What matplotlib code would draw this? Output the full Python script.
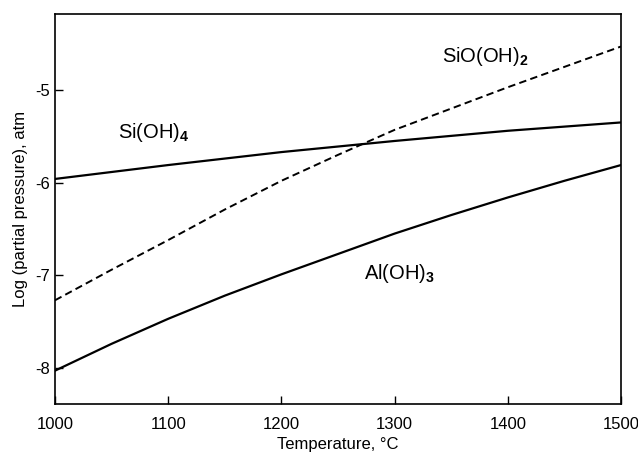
import matplotlib
matplotlib.use("Agg")
import matplotlib.pyplot as plt

plt.rcParams['font.family'] = ['Liberation Sans', 'DejaVu Sans']
plt.rcParams['mathtext.fontset'] = 'custom'
plt.rcParams['mathtext.rm'] = 'Liberation Sans'
plt.rcParams['mathtext.bf'] = 'Liberation Sans:bold'
plt.rcParams['axes.unicode_minus'] = False

# Temperature (°C) and log partial pressures (atm)
temperature = [1000, 1050, 1100, 1150, 1200, 1250, 1300, 1350, 1400, 1450, 1500]
si_oh4 = [-5.96, -5.885, -5.81, -5.74, -5.67, -5.61, -5.55, -5.495, -5.44, -5.395, -5.35]
sio_oh2 = [-7.27, -6.94, -6.62, -6.29, -5.98, -5.70, -5.43, -5.20, -4.97, -4.75, -4.53]
al_oh3 = [-8.03, -7.74, -7.47, -7.22, -6.99, -6.77, -6.55, -6.35, -6.16, -5.98, -5.81]

x_ticks = [1000, 1100, 1200, 1300, 1400, 1500]
y_ticks = [-8, -7, -6, -5]

fig = plt.figure(figsize=(6.38, 4.54), dpi=100)
ax = fig.add_axes([0.0862, 0.1101, 0.8872, 0.8589])

ax.plot(temperature, si_oh4, color='black', lw=1.6)
ax.plot(temperature, sio_oh2, color='black', lw=1.4, ls=(0, (3.8, 2.2)))
ax.plot(temperature, al_oh3, color='black', lw=1.6)

ax.text(1087, -5.46, r'Si(OH)$_\mathbf{4}$', fontsize=14.5, ha='center', va='center')
ax.text(1380, -4.64, r'SiO(OH)$_\mathbf{2}$', fontsize=14.5, ha='center', va='center')
ax.text(1304, -6.985, r'Al(OH)$_\mathbf{3}$', fontsize=14.5, ha='center', va='center')

ax.set_xlim(1000, 1500)
ax.set_ylim(-8.39, -4.18)
ax.set_xticks(x_ticks)
ax.set_yticks(y_ticks)
ax.tick_params(direction='in', length=6, width=1, labelsize=12, top=False, right=False)
ax.tick_params(axis='x', pad=9)
for s in ax.spines.values():
    s.set_linewidth(1.2)

ax.set_xlabel('Temperature, °C', fontsize=12, labelpad=4)
ax.set_ylabel('Log (partial pressure), atm', fontsize=12, labelpad=5)

fig.savefig('out.png', dpi=100)
